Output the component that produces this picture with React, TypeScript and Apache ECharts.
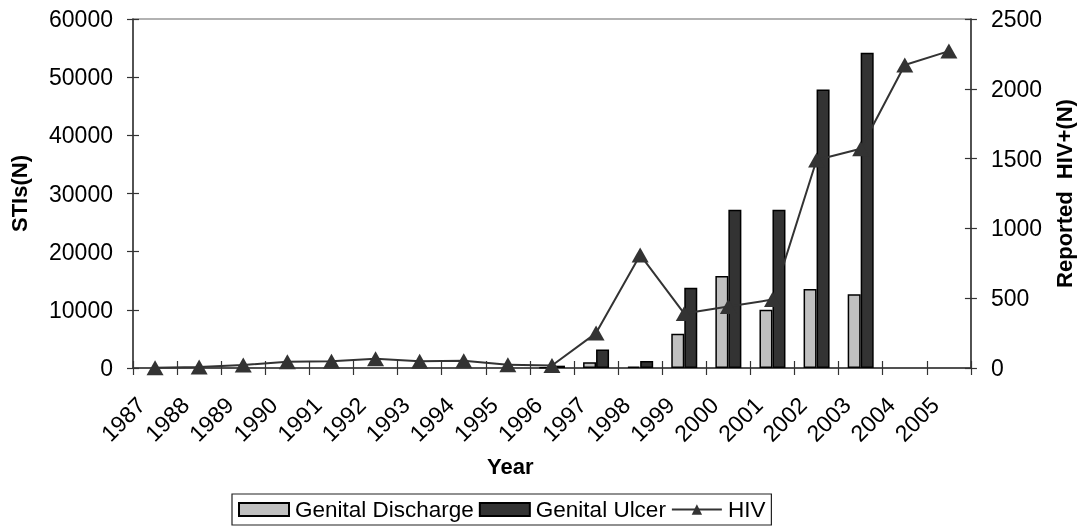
import React, { useEffect, useRef } from "react";
import * as echarts from "echarts";

const years = ["1987","1988","1989","1990","1991","1992","1993","1994","1995","1996","1997","1998","1999","2000","2001","2002","2003","2004","2005"];
const genitalDischarge = [null,null,null,null,null,null,null,null,null,100,1000,250,5900,15800,10000,13600,12700,null,null];
const genitalUlcer = [null,null,null,null,null,null,null,null,null,400,3200,1200,13800,27200,27200,47900,54200,null,null];
const hiv = [2,8,22,45,48,67,48,52,24,18,250,810,390,440,490,1490,1570,2170,2270];
const leftTicks = { min: 0, max: 60000, interval: 10000 };
const rightTicks = { min: 0, max: 2500, interval: 500 };

const FONT = "'Liberation Sans', Arial, Helvetica, sans-serif";
const DARK = "#333333";

export default function App() {
  const ref = useRef<HTMLDivElement>(null);
  useEffect(() => {
    const chart = echarts.init(ref.current!, null, { renderer: "svg" });
    const labelStyle = { color: "#000", fontFamily: FONT, fontSize: 23 };
    const axisLine = { show: true, lineStyle: { color: DARK, width: 1.5 } };
    const plain = (v: number) => String(v);
    chart.setOption({
      animation: false,
      textStyle: { fontFamily: FONT },
      grid: { left: 133, right: 111, top: 19, bottom: 161, show: true, borderColor: "#999", borderWidth: 1.5 },
      legend: {
        left: 232,
        top: 494,
        padding: [4, 6],
        borderColor: "#222",
        borderWidth: 1.2,
        itemWidth: 50,
        itemHeight: 13,
        itemGap: 5,
        textStyle: { color: "#000", fontFamily: FONT, fontSize: 22.5, padding: [0, 0, 0, 1] },
        data: [
          { name: "Genital Discharge", icon: "rect" },
          { name: "Genital Ulcer", icon: "rect" },
          { name: "HIV" },
        ],
      },
      xAxis: [
        {
          type: "category",
          data: years,
          position: "bottom",
          boundaryGap: true,
          axisLine,
          axisTick: { show: true, interval: 0, length: 7, lineStyle: { color: DARK, width: 1.2 } },
          axisLabel: { show: false },
          splitLine: { show: false },
        },
        {
          type: "value",
          min: 0,
          max: years.length,
          interval: 1,
          position: "bottom",
          axisLine: { show: false },
          axisTick: { show: true, inside: true, length: 7, lineStyle: { color: DARK, width: 1.2 } },
          axisLabel: {
            ...labelStyle,
            rotate: 45,
            margin: 25,
            verticalAlign: "top",
            showMaxLabel: true,
            formatter: (v: number) => years[v] ?? "",
          },
          splitLine: { show: false },
        },
      ],
      yAxis: [
        {
          type: "value",
          position: "left",
          ...leftTicks,
          name: "STIs(N)",
          nameLocation: "middle",
          nameGap: 103,
          nameTextStyle: { color: "#000", fontFamily: FONT, fontSize: 22, fontWeight: "bold" },
          axisLine,
          axisTick: { show: true, length: 6, lineStyle: { color: DARK, width: 1.2 } },
          axisLabel: { ...labelStyle, margin: 20, formatter: plain },
          splitLine: { show: false },
        },
        {
          type: "value",
          position: "right",
          ...rightTicks,
          name: "Reported  HIV+(N)",
          nameLocation: "middle",
          nameGap: 82,
          nameRotate: 90,
          nameTextStyle: { color: "#000", fontFamily: FONT, fontSize: 22, fontWeight: "bold" },
          axisLine,
          axisTick: { show: true, length: 6, lineStyle: { color: DARK, width: 1.2 } },
          axisLabel: { ...labelStyle, margin: 20, formatter: plain },
          splitLine: { show: false },
        },
        {
          type: "value",
          position: "left",
          ...leftTicks,
          axisLine: { show: false },
          axisTick: { show: true, inside: true, length: 6, lineStyle: { color: DARK, width: 1.2 } },
          axisLabel: { show: false },
          splitLine: { show: false },
        },
        {
          type: "value",
          position: "right",
          ...rightTicks,
          axisLine: { show: false },
          axisTick: { show: true, inside: true, length: 6, lineStyle: { color: DARK, width: 1.2 } },
          axisLabel: { show: false },
          splitLine: { show: false },
        },
      ],
      graphic: [
        {
          type: "text",
          left: 487,
          top: 455,
          style: { text: "Year", fill: "#000", font: `bold 22px ${FONT}` },
        },
      ],
      series: [
        {
          name: "Genital Discharge",
          type: "bar",
          xAxisIndex: 0,
          yAxisIndex: 0,
          data: genitalDischarge,
          barWidth: 13,
          barGap: "0%",
          itemStyle: { color: "#c0c0c0", borderColor: "#000", borderWidth: 1.5 },
        },
        {
          name: "Genital Ulcer",
          type: "bar",
          xAxisIndex: 0,
          yAxisIndex: 0,
          data: genitalUlcer,
          barWidth: 13,
          barGap: "0%",
          itemStyle: { color: DARK, borderColor: "#000", borderWidth: 1.5 },
        },
        {
          name: "HIV",
          type: "line",
          xAxisIndex: 0,
          yAxisIndex: 1,
          data: hiv,
          symbol: "triangle",
          symbolSize: [17, 15],
          showAllSymbol: true,
          lineStyle: { color: DARK, width: 2 },
          itemStyle: { color: DARK },
        },
      ],
    });
    return () => chart.dispose();
  }, []);
  return <div ref={ref} style={{ position: "fixed", left: 0, top: 0, width: 1083, height: 529 }} />;
}
